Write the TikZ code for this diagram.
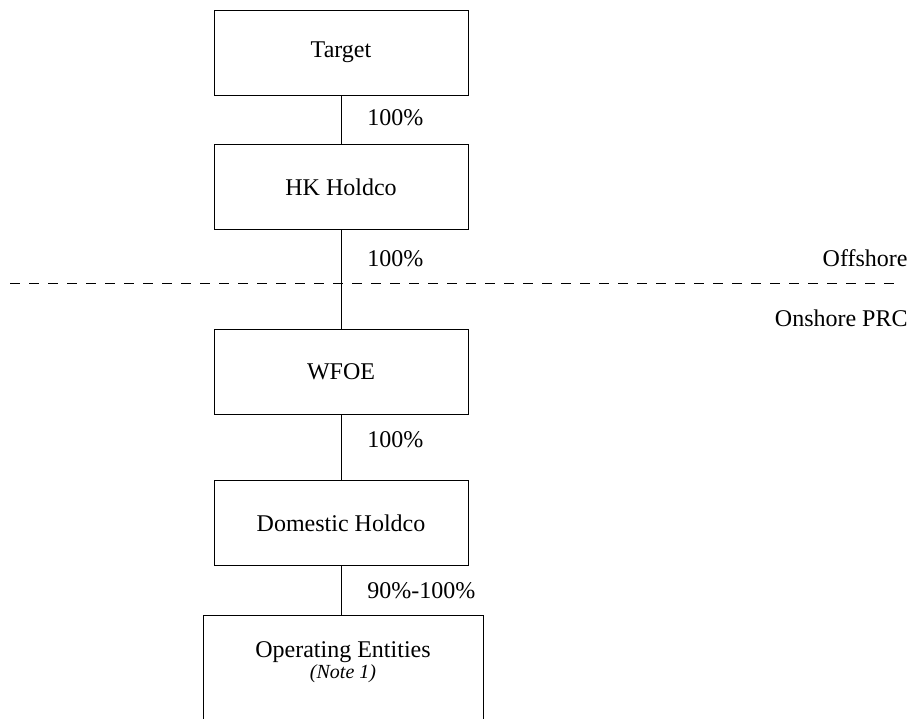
\documentclass[tikz,border=0pt]{standalone}
\usepackage{fontspec}
\setmainfont{Liberation Serif}

\begin{document}
\begin{tikzpicture}[x=1pt, y=-1pt, line width=0.8pt,
    entity/.style={draw, minimum width=254pt, minimum height=85pt, inner sep=0pt, font=\fontsize{24}{28}\selectfont},
    pct/.style={anchor=west, xshift=26pt, inner sep=0pt, font=\fontsize{24}{28}\selectfont},
    zone/.style={anchor=east, inner sep=0pt, font=\fontsize{24}{28}\selectfont},
    border/.style={dash pattern=on 10pt off 9pt}]
    \useasboundingbox (0,0) rectangle (910,718);
    \clip (0,0) rectangle (910,718);
    \node[entity] (tgt) at (341,52.5) {Target};
    \node[entity] (hk) at (341,187) {HK Holdco};
    \node[entity] (wfoe) at (341,371.5) {WFOE};
    \node[entity] (dom) at (341,523) {Domestic Holdco};
    % open box, bottom runs off the page
    \node[draw, minimum width=280pt, minimum height=130pt, anchor=north] (ops) at (343,615) {};
    \node[inner sep=0pt, font=\fontsize{24}{28}\selectfont] (opsname) at (343,652) {Operating Entities};
    \node[inner sep=0pt, font=\fontsize{20}{24}\selectfont\itshape] (opsnote) at (343,674) {(Note 1)};
    \draw (tgt) -- (hk) node[pct, pos=0.46] {100\%};
    \draw (hk) -- (wfoe) node[pct, pos=0.29] {100\%};
    \draw (wfoe) -- (dom) node[pct, pos=0.39] {100\%};
    \draw (dom.south) -- (dom.south |- ops.north) node[pct, pos=0.5] {90\%-100\%};
    % offshore / onshore divide
    \coordinate (divl) at (10,283);
    \coordinate (divr) at (902,283);
    \draw[border] (divl) -- (divr);
    \node[zone] (off) at (908,258) {Offshore};
    \node[zone] (on) at (908,318) {Onshore PRC};
\end{tikzpicture}
\end{document}
